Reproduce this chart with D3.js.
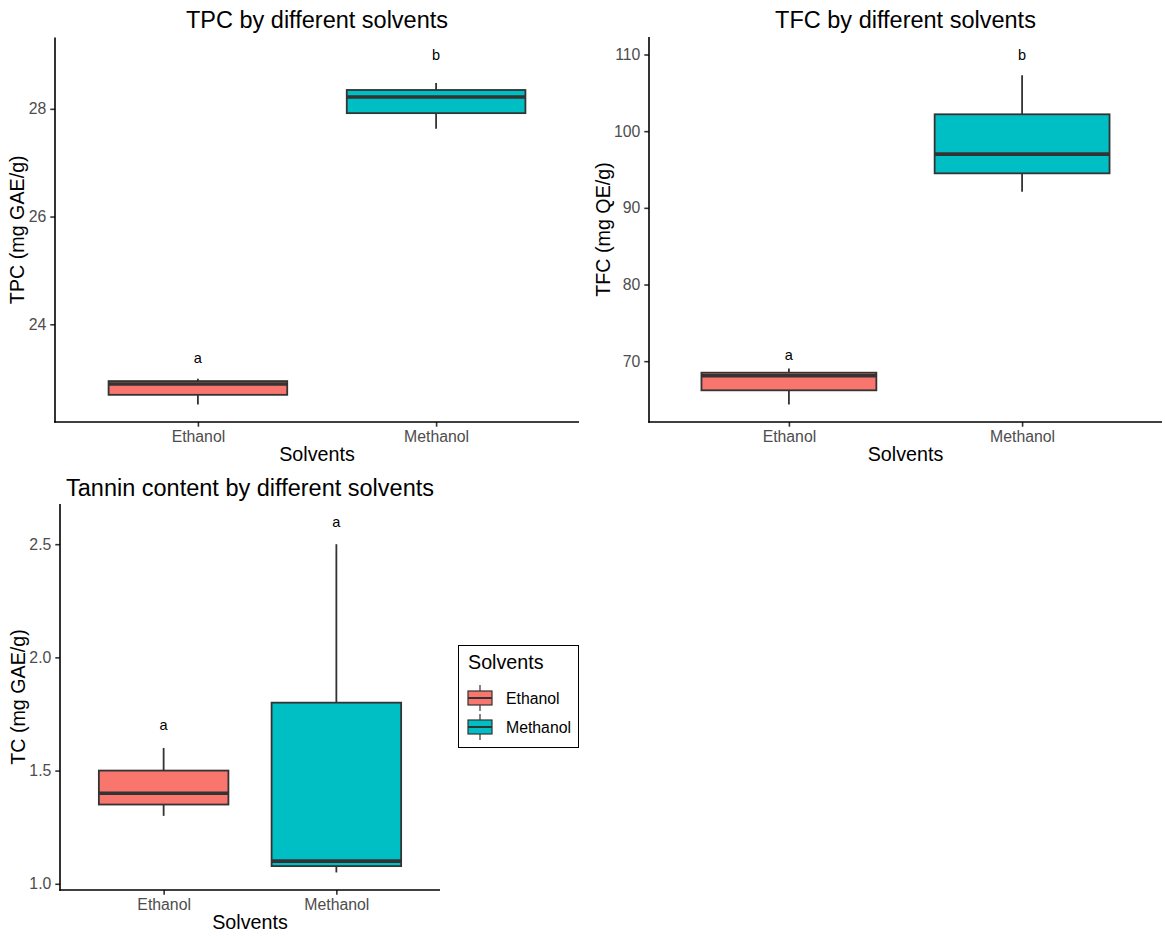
<!DOCTYPE html>
<html>
<head>
<meta charset="utf-8">
<script src="https://cdn.jsdelivr.net/npm/d3@7"></script>
<style>
  html, body { margin: 0; padding: 0; background: #ffffff; }
  svg { display: block; font-family: "Liberation Sans", Arial, sans-serif; }
</style>
</head>
<body>
<svg id="chart" width="1165" height="938"></svg>
<script>
// Groups on the x axis
const solvents = ["Ethanol", "Methanol"];
const solventColors = ["#F8766D", "#00BFC4"];

// Total phenolic content (mg GAE/g): box-plot summaries per solvent
const tpcLow    = [22.51, 27.63];
const tpcQ1     = [22.69, 27.92];
const tpcMedian = [22.89, 28.22];
const tpcQ3     = [22.945, 28.35];
const tpcHigh   = [22.99, 28.48];
const tpcLetters = ["a", "b"];
const tpcLetterY = [23.37, 29.0];
const tpcTicks = [24, 26, 28];

// Total flavonoid content (mg QE/g)
const tfcLow    = [64.35, 92.1];
const tfcQ1     = [66.2, 94.5];
const tfcMedian = [68.1, 97.0];
const tfcQ3     = [68.5, 102.2];
const tfcHigh   = [69.05, 107.3];
const tfcLetters = ["a", "b"];
const tfcLetterY = [70.8, 110.0];
const tfcTicks = [70, 80, 90, 100, 110];

// Tannin content (mg GAE/g)
const tcLow    = [1.30, 1.05];
const tcQ1     = [1.35, 1.078];
const tcMedian = [1.40, 1.10];
const tcQ3     = [1.50, 1.80];
const tcHigh   = [1.60, 2.50];
const tcLetters = ["a", "a"];
const tcLetterY = [1.70, 2.60];
const tcTicks = [1.0, 1.5, 2.0, 2.5];

const svg = d3.select("#chart");

const TICK_LEN = 4.7;
const TICK_PAD = 4;
const LINE_COL = "#333333";
const FS_TICK = 15.8;
const FS_AXIS_TITLE = 19.7;
const FS_TITLE = 23.5;
const FS_LETTER = 14.5;

function drawPanel(cfg) {
  const { left, right, top, bottom, title, yTitle, titleY, xTitleY } = cfg;
  const g = svg.append("g");

  // y domain: data extent (whiskers and letters) padded by 5% on each side
  const lo = d3.min([...cfg.low, ...cfg.letterY]);
  const hi = d3.max([...cfg.high, ...cfg.letterY]);
  const pad = (hi - lo) * 0.05;
  const y = d3.scaleLinear().domain([lo - pad, hi + pad]).range([bottom, top]);
  // discrete x positions 1..n with 0.6 padding on either side
  const x = d3.scaleLinear().domain([0.4, solvents.length + 0.6]).range([left, right]);
  const unit = x(2) - x(1);
  const boxW = unit * 0.75;

  const boxes = solvents.map((s, i) => ({
    name: s, i, color: solventColors[i],
    low: cfg.low[i], q1: cfg.q1[i], med: cfg.median[i], q3: cfg.q3[i], high: cfg.high[i],
    letter: cfg.letters[i], letterY: cfg.letterY[i]
  }));

  const bg = g.append("g").selectAll("g").data(boxes).join("g");
  // whiskers
  bg.append("line")
    .attr("x1", d => x(d.i + 1)).attr("x2", d => x(d.i + 1))
    .attr("y1", d => y(d.q3)).attr("y2", d => y(d.high))
    .attr("stroke", LINE_COL).attr("stroke-width", 1.8);
  bg.append("line")
    .attr("x1", d => x(d.i + 1)).attr("x2", d => x(d.i + 1))
    .attr("y1", d => y(d.q1)).attr("y2", d => y(d.low))
    .attr("stroke", LINE_COL).attr("stroke-width", 1.8);
  // boxes
  bg.append("rect")
    .attr("x", d => x(d.i + 1) - boxW / 2)
    .attr("width", boxW)
    .attr("y", d => y(d.q3))
    .attr("height", d => y(d.q1) - y(d.q3))
    .attr("fill", d => d.color)
    .attr("stroke", LINE_COL).attr("stroke-width", 1.8);
  // medians
  bg.append("line")
    .attr("x1", d => x(d.i + 1) - boxW / 2).attr("x2", d => x(d.i + 1) + boxW / 2)
    .attr("y1", d => y(d.med)).attr("y2", d => y(d.med))
    .attr("stroke", LINE_COL).attr("stroke-width", 3.6);
  // significance letters
  bg.append("text")
    .attr("x", d => x(d.i + 1))
    .attr("y", d => y(d.letterY))
    .attr("dy", "0.35em")
    .attr("text-anchor", "middle")
    .attr("font-size", FS_LETTER)
    .attr("fill", "#000")
    .text(d => d.letter);

  // axes
  const yAxis = d3.axisLeft(y).tickValues(cfg.ticks).tickFormat(cfg.tickFormat)
    .tickSize(TICK_LEN).tickPadding(TICK_PAD);
  const ya = g.append("g").attr("transform", `translate(${left},0)`).call(yAxis);
  const xAxis = d3.axisBottom(x).tickValues(solvents.map((s, i) => i + 1))
    .tickFormat((d) => solvents[d - 1]).tickSize(TICK_LEN).tickPadding(TICK_PAD + 0.5);
  const xa = g.append("g").attr("transform", `translate(0,${bottom})`).call(xAxis);

  [ya, xa].forEach(a => {
    a.select(".domain").remove();
    a.selectAll(".tick line").attr("stroke", LINE_COL).attr("stroke-width", 1.6);
    a.selectAll(".tick text").attr("fill", "#4D4D4D").attr("font-size", FS_TICK)
      .attr("font-family", "Liberation Sans, Arial, sans-serif");
  });
  // axis lines
  g.append("line").attr("x1", left).attr("x2", left).attr("y1", top).attr("y2", bottom + 0.8)
    .attr("stroke", "#000").attr("stroke-width", 1.6);
  g.append("line").attr("x1", left - 0.8).attr("x2", right).attr("y1", bottom).attr("y2", bottom)
    .attr("stroke", "#000").attr("stroke-width", 1.6);

  // widest tick label sets the y title position
  let maxW = 0;
  ya.selectAll(".tick text").each(function () { maxW = Math.max(maxW, this.getComputedTextLength()); });

  g.append("text")
    .attr("transform", `translate(${left - 13 - maxW},${(top + bottom) / 2}) rotate(-90)`)
    .attr("text-anchor", "middle")
    .attr("font-size", FS_AXIS_TITLE)
    .attr("fill", "#000")
    .text(yTitle);

  g.append("text")
    .attr("x", (left + right) / 2).attr("y", xTitleY)
    .attr("text-anchor", "middle")
    .attr("font-size", FS_AXIS_TITLE)
    .attr("fill", "#000")
    .text("Solvents");

  g.append("text")
    .attr("x", (left + right) / 2).attr("y", titleY)
    .attr("text-anchor", "middle")
    .attr("font-size", FS_TITLE)
    .attr("fill", "#000")
    .text(title);
}

drawPanel({
  left: 55, right: 579, top: 37.5, bottom: 422, titleY: 28, xTitleY: 461,
  title: "TPC by different solvents", yTitle: "TPC (mg GAE/g)",
  low: tpcLow, q1: tpcQ1, median: tpcMedian, q3: tpcQ3, high: tpcHigh,
  letters: tpcLetters, letterY: tpcLetterY, ticks: tpcTicks, tickFormat: d3.format("d")
});

drawPanel({
  left: 649, right: 1162, top: 37, bottom: 422, titleY: 28, xTitleY: 461,
  title: "TFC by different solvents", yTitle: "TFC (mg QE/g)",
  low: tfcLow, q1: tfcQ1, median: tfcMedian, q3: tfcQ3, high: tfcHigh,
  letters: tfcLetters, letterY: tfcLetterY, ticks: tfcTicks, tickFormat: d3.format("d")
});

drawPanel({
  left: 60, right: 440, top: 504, bottom: 890, titleY: 496, xTitleY: 929,
  title: "Tannin content by different solvents", yTitle: "TC (mg GAE/g)",
  low: tcLow, q1: tcQ1, median: tcMedian, q3: tcQ3, high: tcHigh,
  letters: tcLetters, letterY: tcLetterY, ticks: tcTicks, tickFormat: d3.format(".1f")
});

// Legend
const legend = svg.append("g");
legend.append("rect")
  .attr("x", 458.5).attr("y", 645.5).attr("width", 120).attr("height", 102)
  .attr("fill", "#fff").attr("stroke", "#000").attr("stroke-width", 1);
legend.append("text")
  .attr("x", 468).attr("y", 669)
  .attr("font-size", FS_AXIS_TITLE).attr("fill", "#000")
  .text("Solvents");
const keys = legend.selectAll("g.key").data(solvents).join("g")
  .attr("class", "key")
  .attr("transform", (d, i) => `translate(480,${698 + i * 29})`);
keys.append("line").attr("x1", 0).attr("x2", 0).attr("y1", -13).attr("y2", 13)
  .attr("stroke", LINE_COL).attr("stroke-width", 1.2);
keys.append("rect").attr("x", -12).attr("y", -7).attr("width", 24).attr("height", 14)
  .attr("fill", (d, i) => solventColors[i]).attr("stroke", LINE_COL).attr("stroke-width", 1.2);
keys.append("line").attr("x1", -12).attr("x2", 12).attr("y1", 0).attr("y2", 0)
  .attr("stroke", LINE_COL).attr("stroke-width", 2);
keys.append("text").attr("x", 26).attr("y", 0).attr("dy", "0.35em")
  .attr("font-size", FS_TICK).attr("fill", "#000")
  .text(d => d);
</script>
</body>
</html>
